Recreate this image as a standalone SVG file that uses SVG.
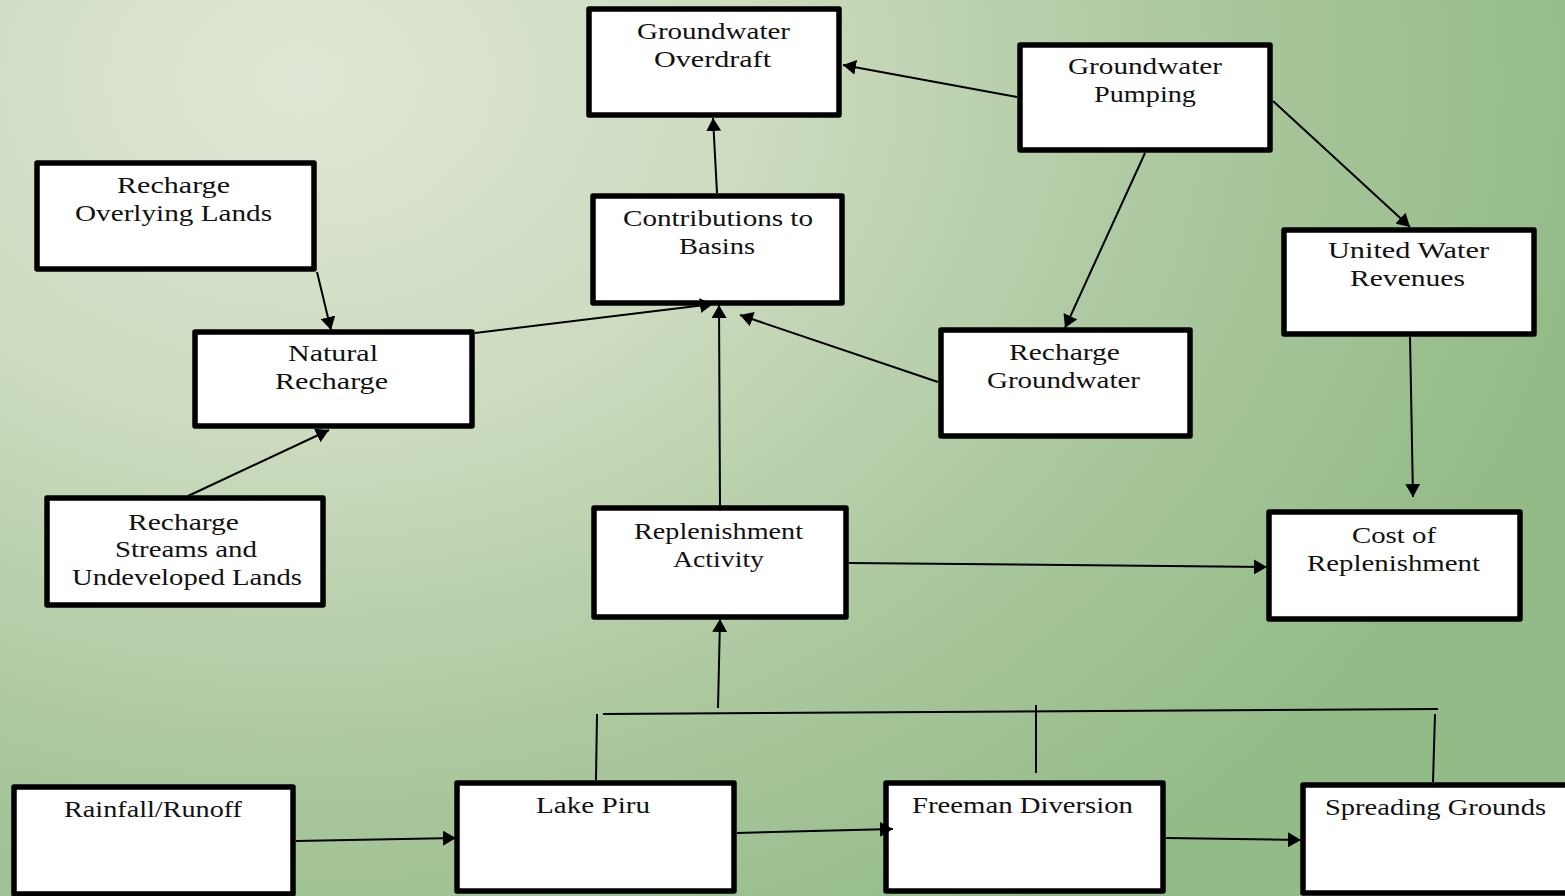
<svg xmlns="http://www.w3.org/2000/svg" width="1565" height="896" viewBox="0 0 1565 896">
  <defs>
    <radialGradient id="bg" gradientUnits="userSpaceOnUse" cx="300" cy="80" r="1300" gradientTransform="translate(300 80) scale(1 0.77) translate(-300 -80)">
      <stop offset="0" stop-color="#dfe6d5"/>
      <stop offset="0.35" stop-color="#cddbbf"/>
      <stop offset="0.7" stop-color="#aac79d"/>
      <stop offset="1" stop-color="#93bb88"/>
    </radialGradient>
    <marker id="arr" markerUnits="userSpaceOnUse" markerWidth="14" markerHeight="15" refX="13" refY="7.5" orient="auto" viewBox="0 0 14 15">
      <path d="M0,0 L13,7.5 L0,15 z" fill="#000"/>
    </marker>
  </defs>
  <style>
    .box { fill: #fff; stroke: #000; stroke-width: 5.5; stroke-linejoin: round; }
    .t { font-family: "Liberation Serif", "Times New Roman", serif; font-size: 23.5px; fill: #111; }
    .c { stroke: #000; stroke-width: 2; fill: none; }
    .a { marker-end: url(#arr); }
  </style>
  <rect x="0" y="0" width="1565" height="896" fill="url(#bg)"/>

  <g id="groundwater-overdraft">
    <rect class="box" x="589" y="9" width="250" height="106"/>
    <text class="t" x="637" y="39" textLength="153" lengthAdjust="spacingAndGlyphs">Groundwater</text>
    <text class="t" x="654" y="67" textLength="117" lengthAdjust="spacingAndGlyphs">Overdraft</text>
  </g>
  <g id="groundwater-pumping">
    <rect class="box" x="1020" y="45" width="250" height="105"/>
    <text class="t" x="1068" y="74" textLength="154" lengthAdjust="spacingAndGlyphs">Groundwater</text>
    <text class="t" x="1094" y="102" textLength="102" lengthAdjust="spacingAndGlyphs">Pumping</text>
  </g>
  <g id="recharge-overlying-lands">
    <rect class="box" x="37" y="163" width="277" height="106"/>
    <text class="t" x="117" y="193" textLength="113" lengthAdjust="spacingAndGlyphs">Recharge</text>
    <text class="t" x="75" y="221" textLength="197" lengthAdjust="spacingAndGlyphs">Overlying Lands</text>
  </g>
  <g id="contributions-to-basins">
    <rect class="box" x="593" y="196" width="249" height="107"/>
    <text class="t" x="623" y="226" textLength="190" lengthAdjust="spacingAndGlyphs">Contributions to</text>
    <text class="t" x="679" y="254" textLength="76" lengthAdjust="spacingAndGlyphs">Basins</text>
  </g>
  <g id="united-water-revenues">
    <rect class="box" x="1284" y="230" width="250" height="104"/>
    <text class="t" x="1328" y="258" textLength="161" lengthAdjust="spacingAndGlyphs">United Water</text>
    <text class="t" x="1350" y="286" textLength="115" lengthAdjust="spacingAndGlyphs">Revenues</text>
  </g>
  <g id="natural-recharge">
    <rect class="box" x="195" y="332" width="277" height="94"/>
    <text class="t" x="288" y="361" textLength="90" lengthAdjust="spacingAndGlyphs">Natural</text>
    <text class="t" x="275" y="389" textLength="113" lengthAdjust="spacingAndGlyphs">Recharge</text>
  </g>
  <g id="recharge-groundwater">
    <rect class="box" x="941" y="330" width="249" height="106"/>
    <text class="t" x="1009" y="360" textLength="111" lengthAdjust="spacingAndGlyphs">Recharge</text>
    <text class="t" x="987" y="388" textLength="153" lengthAdjust="spacingAndGlyphs">Groundwater</text>
  </g>
  <g id="recharge-streams">
    <rect class="box" x="47" y="498" width="276" height="107"/>
    <text class="t" x="128" y="530" textLength="111" lengthAdjust="spacingAndGlyphs">Recharge</text>
    <text class="t" x="115" y="557" textLength="142" lengthAdjust="spacingAndGlyphs">Streams and</text>
    <text class="t" x="72" y="585" textLength="230" lengthAdjust="spacingAndGlyphs">Undeveloped Lands</text>
  </g>
  <g id="replenishment-activity">
    <rect class="box" x="594" y="508" width="252" height="109"/>
    <text class="t" x="634" y="539" textLength="169" lengthAdjust="spacingAndGlyphs">Replenishment</text>
    <text class="t" x="673" y="567" textLength="91" lengthAdjust="spacingAndGlyphs">Activity</text>
  </g>
  <g id="cost-of-replenishment">
    <rect class="box" x="1269" y="512" width="251" height="107"/>
    <text class="t" x="1352" y="543" textLength="84" lengthAdjust="spacingAndGlyphs">Cost of</text>
    <text class="t" x="1307" y="571" textLength="173" lengthAdjust="spacingAndGlyphs">Replenishment</text>
  </g>
  <g id="rainfall-runoff">
    <rect class="box" x="14" y="787" width="279" height="107"/>
    <text class="t" x="64" y="817" textLength="178" lengthAdjust="spacingAndGlyphs">Rainfall/Runoff</text>
  </g>
  <g id="lake-piru">
    <rect class="box" x="457" y="783" width="277" height="108"/>
    <text class="t" x="536" y="813" textLength="114" lengthAdjust="spacingAndGlyphs">Lake Piru</text>
  </g>
  <g id="freeman-diversion">
    <rect class="box" x="886" y="783" width="277" height="108"/>
    <text class="t" x="912" y="813" textLength="221" lengthAdjust="spacingAndGlyphs">Freeman Diversion</text>
  </g>
  <g id="spreading-grounds">
    <rect class="box" x="1303" y="785" width="270" height="108"/>
    <text class="t" x="1325" y="815" textLength="221" lengthAdjust="spacingAndGlyphs">Spreading Grounds</text>
  </g>

  <g id="connectors">
    <line class="c a" x1="1017" y1="97" x2="843" y2="65"/>
    <line class="c a" x1="717" y1="193" x2="713" y2="118"/>
    <line class="c a" x1="317" y1="272" x2="331" y2="330"/>
    <line class="c a" x1="475" y1="333" x2="713" y2="304"/>
    <line class="c a" x1="188" y1="496" x2="329" y2="430"/>
    <line class="c a" x1="720" y1="506" x2="719" y2="305"/>
    <line class="c a" x1="938" y1="382" x2="740" y2="315"/>
    <line class="c a" x1="1145" y1="153" x2="1065" y2="328"/>
    <line class="c a" x1="1273" y1="101" x2="1410" y2="227"/>
    <line class="c a" x1="1410" y1="337" x2="1413" y2="497"/>
    <line class="c a" x1="849" y1="563" x2="1267" y2="567"/>
    <line class="c" x1="603" y1="714" x2="1438" y2="709"/>
    <line class="c" x1="597" y1="714" x2="596" y2="780"/>
    <line class="c" x1="1036" y1="705" x2="1036" y2="773"/>
    <line class="c" x1="1435" y1="714" x2="1433" y2="782"/>
    <line class="c a" x1="718" y1="708" x2="720" y2="619"/>
    <line class="c a" x1="296" y1="841" x2="456" y2="838"/>
    <line class="c a" x1="737" y1="833" x2="893" y2="829"/>
    <line class="c a" x1="1166" y1="838" x2="1301" y2="840"/>
  </g>
</svg>
